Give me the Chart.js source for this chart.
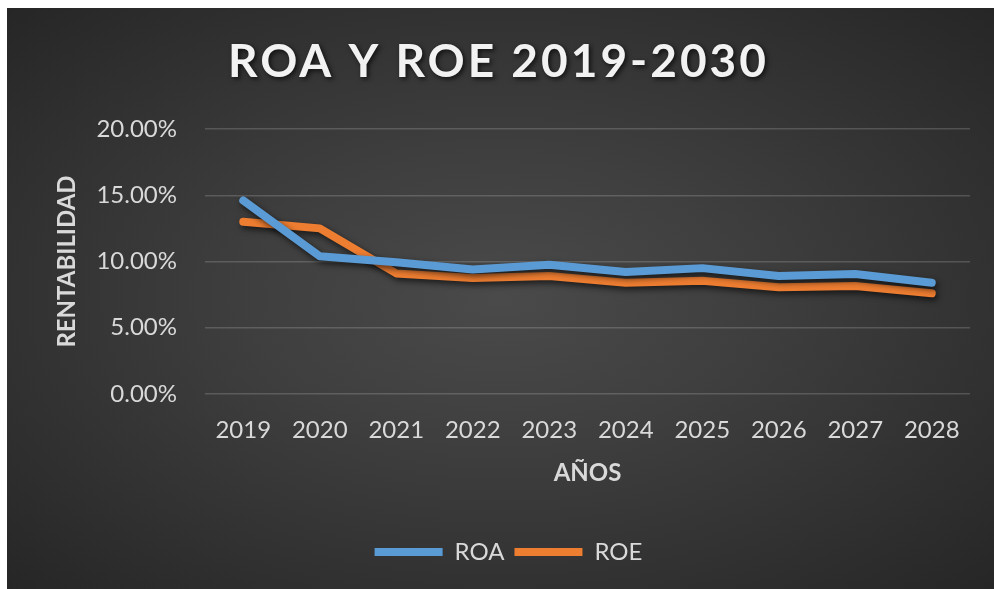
<!DOCTYPE html>
<html>
<head>
<meta charset="utf-8">
<script src="https://cdn.jsdelivr.net/npm/chart.js@4"></script>
<style>
    html, body { margin: 0; padding: 0; background: #fff; }
    #wrap {
        position: absolute;
        left: 7px; top: 8px;
        width: 987px; height: 581px;
        background: radial-gradient(ellipse farthest-corner at 50% 50%, #4a4a4a 0%, #3f3f3f 35%, #262626 100%);
    }
</style>
</head>
<body>
<div id="wrap"><canvas id="chart"></canvas></div>
<script>
// datos del gráfico
const years = ['2019', '2020', '2021', '2022', '2023', '2024', '2025', '2026', '2027', '2028'];
const roa = [14.6, 10.4, 9.95, 9.4, 9.75, 9.2, 9.5, 8.9, 9.05, 8.4];
const roe = [13.0, 12.5, 9.1, 8.75, 8.9, 8.4, 8.55, 8.05, 8.15, 7.6];
const yTicks = [0, 5, 10, 15, 20];

const chartTitle = 'ROA Y ROE 2019-2030';
const FONT = 'Lato, "Open Sans", sans-serif';
const TXT = '#d9d9d9';

// sombra para las líneas
const lineShadow = {
    id: 'lineShadow',
    beforeDatasetDraw(chart) {
        const ctx = chart.ctx;
        ctx.save();
        ctx.shadowColor = 'rgba(0,0,0,0.65)';
        ctx.shadowBlur = 6;
        ctx.shadowOffsetX = 2;
        ctx.shadowOffsetY = 3;
    },
    afterDatasetDraw(chart) {
        chart.ctx.restore();
    }
};

// título con espaciado entre letras
const bigTitle = {
    id: 'bigTitle',
    afterDraw(chart) {
        const ctx = chart.ctx;
        ctx.save();
        ctx.font = 'bold 46px ' + FONT;
        ctx.letterSpacing = '3px';
        ctx.fillStyle = '#f2f2f2';
        ctx.textAlign = 'center';
        ctx.textBaseline = 'middle';
        ctx.shadowColor = 'rgba(0,0,0,0.7)';
        ctx.shadowBlur = 5;
        ctx.shadowOffsetX = 2;
        ctx.shadowOffsetY = 2;
        ctx.fillText(chartTitle, chart.width / 2 - 2, 54);
        ctx.restore();
    }
};

// centrar la leyenda como en el original (algo a la derecha)
const legendShift = {
    id: 'legendShift',
    afterLayout(chart) {
        if (chart.legend) chart.legend.left += 40;
    }
};

function makeLine(label, data, color) {
    return {
        label: label,
        data: data,
        borderColor: color,
        backgroundColor: color,
        borderWidth: 8,
        borderCapStyle: 'round',
        borderJoinStyle: 'round',
        pointRadius: 0,
        pointHoverRadius: 0,
        pointStyle: 'line',
        tension: 0,
        fill: false
    };
}

new Chart(document.getElementById('chart'), {
    type: 'line',
    data: {
        labels: years,
        datasets: [
            makeLine('ROA', roa, '#5b9bd5'),
            makeLine('ROE', roe, '#ed7d31')
        ]
    },
    options: {
        responsive: true,
        maintainAspectRatio: false,
        animation: false,
        layout: { padding: { top: 121, right: 24, bottom: 15, left: 0 } },
        plugins: {
            title: { display: false },
            tooltip: { enabled: false },
            legend: {
                display: true,
                position: 'bottom',
                labels: {
                    color: TXT,
                    font: { family: FONT, size: 24 },
                    usePointStyle: true,
                    pointStyle: 'line',
                    pointStyleWidth: 68,
                    padding: 10
                }
            }
        },
        scales: {
            x: {
                offset: true,
                grid: { display: false, drawTicks: false },
                border: { display: false },
                ticks: {
                    color: TXT,
                    font: { family: FONT, size: 24 },
                    padding: 22,
                    maxRotation: 0
                },
                title: {
                    display: true,
                    text: 'AÑOS',
                    color: TXT,
                    font: { family: FONT, size: 24, weight: 'bold' },
                    padding: { top: 0, bottom: 42 }
                },
                afterFit(scale) { scale.height = 136; }
            },
            y: {
                min: 0,
                max: 20,
                afterBuildTicks(scale) { scale.ticks = yTicks.map(v => ({ value: v })); },
                grid: { color: 'rgba(255,255,255,0.17)', lineWidth: 1.5, drawTicks: false },
                border: { display: false },
                ticks: {
                    color: TXT,
                    font: { family: FONT, size: 24 },
                    padding: 28,
                    callback: v => v.toFixed(2) + '%'
                },
                title: {
                    display: true,
                    text: 'RENTABILIDAD',
                    color: TXT,
                    font: { family: FONT, size: 24, weight: 'bold' },
                    padding: { top: 46, bottom: 0 }
                },
                afterFit(scale) { scale.width = 198; }
            }
        }
    },
    plugins: [lineShadow, bigTitle, legendShift]
});
</script>
</body>
</html>
